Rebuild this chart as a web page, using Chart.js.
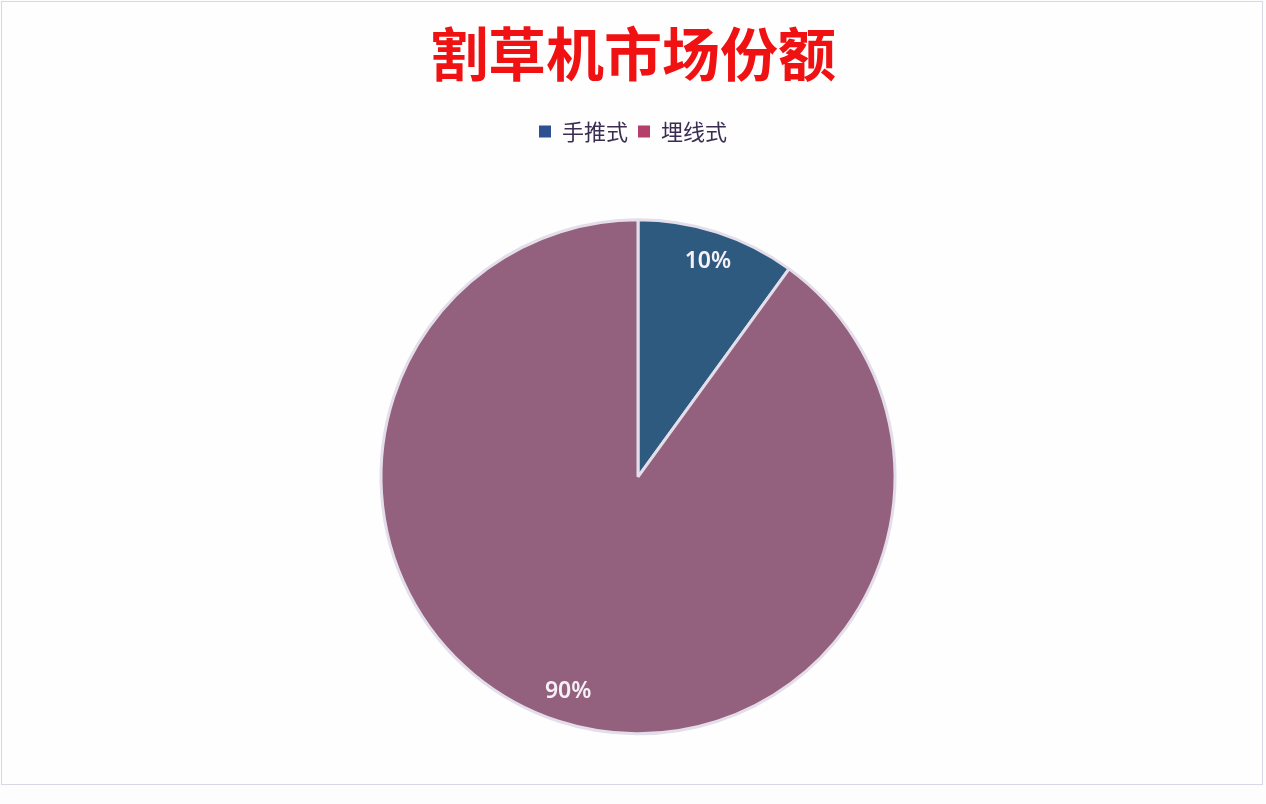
<!DOCTYPE html>
<html>
<head>
<meta charset="utf-8">
<script src="https://cdn.jsdelivr.net/npm/chart.js@4.4.0/dist/chart.umd.min.js"></script>
<style>
  html, body { margin: 0; padding: 0; background: #fdfdfe; }
  #wrap { position: absolute; left: 0; top: 0; width: 1266px; height: 804px; }
  #frame {
    position: absolute; left: 1px; top: 1px;
    width: 1260px; height: 782px;
    border: 1px solid #d6d8e6;
    background: #fefeff;
  }
  #wrap canvas { position: absolute; left: 0; top: 0; display: block; }
</style>
</head>
<body>
<div id="frame"></div>
<div id="wrap"><canvas id="pieChart"></canvas></div>
<script>
// 割草机市场份额
const categories = ['手推式', '埋线式'];
const shares = [10, 90];
const sliceColors = ['#2f5a80', '#93617d'];
const legendColors = ['#2d5191', '#b53f6b'];

// 饼图相对标题略微右移
const pieShift = {
    id: 'pieShift',
    afterLayout(chart) {
        chart.chartArea.left += 10;
    }
};

// 扇区百分比标签
const sliceLabels = {
    id: 'sliceLabels',
    afterDatasetsDraw(chart) {
        const ctx = chart.ctx;
        const meta = chart.getDatasetMeta(0);
        const total = shares.reduce((s, v) => s + v, 0);
        ctx.save();
        ctx.font = '600 23px "Noto Sans", "DejaVu Sans", sans-serif';
        ctx.fillStyle = '#f5f1f7';
        ctx.textAlign = 'center';
        ctx.textBaseline = 'middle';
        meta.data.forEach((arc, i) => {
            const p = arc.getProps(['x', 'y', 'startAngle', 'endAngle', 'outerRadius'], true);
            const mid = (p.startAngle + p.endAngle) / 2;
            const r = p.outerRadius * 0.88;
            const pct = Math.round(shares[i] / total * 100) + '%';
            ctx.fillText(pct, p.x + Math.cos(mid) * r, p.y + Math.sin(mid) * r);
        });
        ctx.restore();
    }
};

document.addEventListener('DOMContentLoaded', function() {
    const ctx = document.getElementById('pieChart').getContext('2d');
    new Chart(ctx, {
        type: 'pie',
        data: {
            labels: categories,
            datasets: [{
                data: shares,
                backgroundColor: sliceColors,
                borderColor: '#e4deea',
                borderWidth: 3,
                radius: 257
            }]
        },
        options: {
            responsive: true,
            maintainAspectRatio: false,
            animation: false,
            layout: { padding: { left: 0, right: 0, top: 0, bottom: 3 } },
            plugins: {
                title: {
                    display: true,
                    text: '割草机市场份额',
                    color: '#f01212',
                    font: { family: '"Noto Sans CJK SC", sans-serif', size: 58, weight: 'bold' },
                    padding: { top: 19, bottom: 22 }
                },
                legend: {
                    position: 'top',
                    labels: {
                        boxWidth: 12,
                        boxHeight: 12,
                        padding: 10,
                        color: '#3b2d50',
                        font: { family: '"Noto Sans CJK SC", sans-serif', size: 22 },
                        generateLabels(chart) {
                            return categories.map((name, i) => ({
                                text: name,
                                fillStyle: legendColors[i],
                                strokeStyle: legendColors[i],
                                lineWidth: 0,
                                fontColor: '#3b2d50',
                                hidden: false,
                                index: i
                            }));
                        }
                    }
                },
                tooltip: { enabled: false }
            }
        },
        plugins: [pieShift, sliceLabels]
    });
});
</script>
</body>
</html>
